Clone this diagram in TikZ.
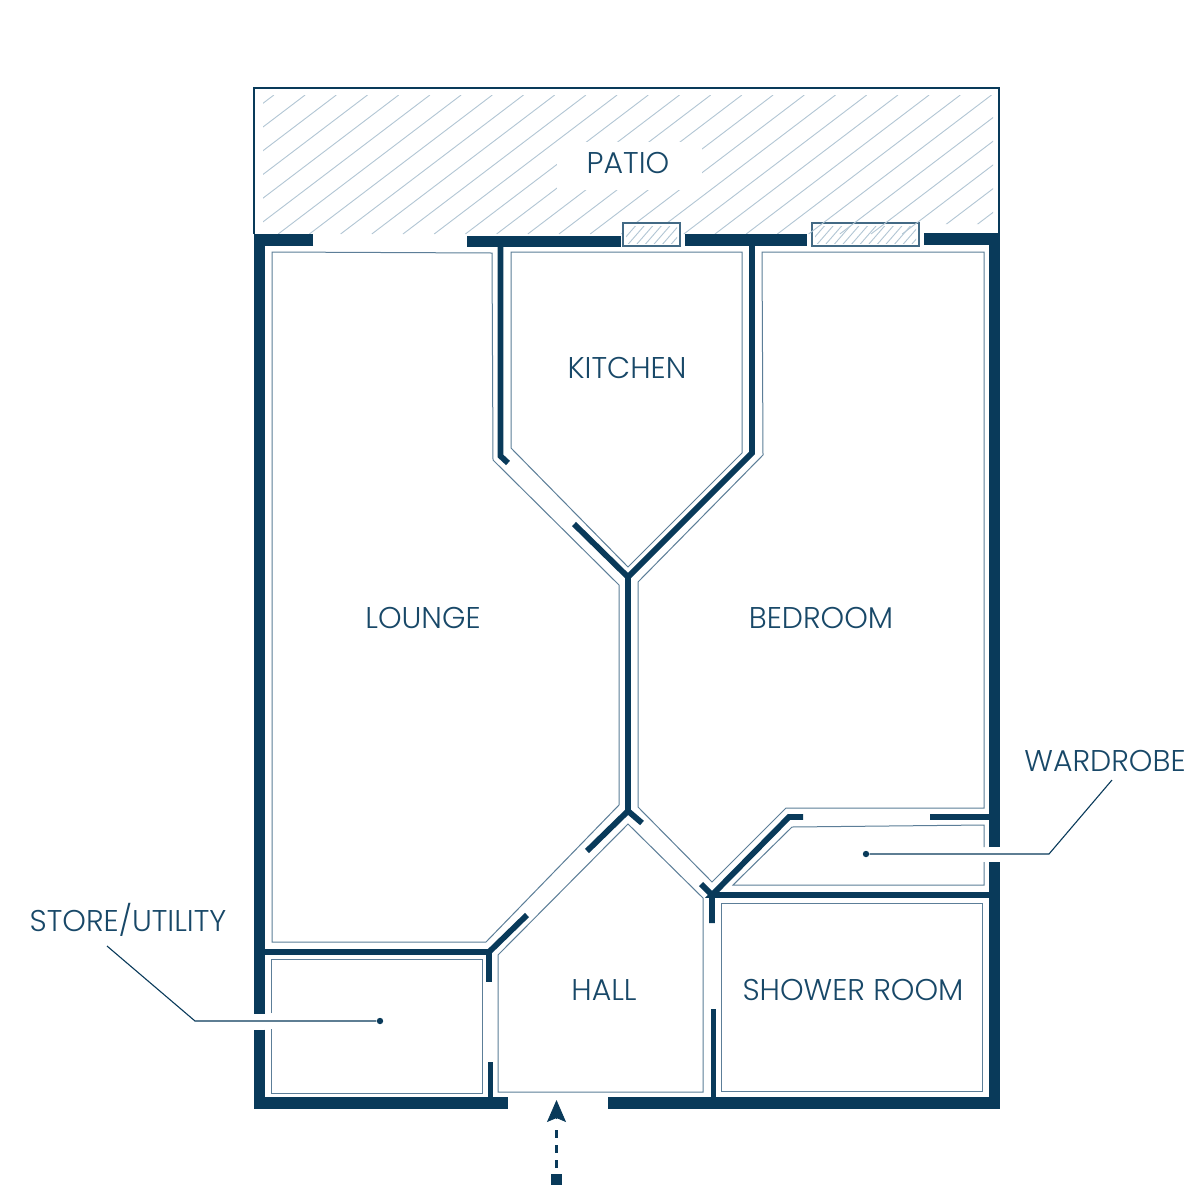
\documentclass[tikz,border=0pt]{standalone}
\usepackage{fontspec}
\setmainfont{Poppins Light}
\usetikzlibrary{arrows.meta}
\definecolor{wall_blue}{RGB}{9,58,90}
\definecolor{room_edge}{RGB}{92,126,152}
\definecolor{hatch_blue}{RGB}{178,198,212}
\definecolor{text_blue}{RGB}{24,72,104}

\begin{document}
\begin{tikzpicture}[x=0.5pt,y=-0.5pt,line join=miter]
    \tikzstyle{label}=[text=text_blue,font=\fontsize{15}{17}\selectfont,inner sep=0pt]
    \tikzstyle{outer}=[draw=wall_blue,line width=5.6pt]
    \tikzstyle{inner}=[draw=wall_blue,line width=2.9pt]
    \tikzstyle{room}=[draw=room_edge,line width=0.5pt]
    \tikzstyle{hatch}=[draw=hatch_blue,line width=0.45pt]
    \tikzstyle{pane}=[draw=room_edge!70!wall_blue,line width=0.75pt,fill=white]
    \tikzstyle{leader}=[draw=wall_blue,line width=0.55pt]
    \tikzstyle{dot}=[circle,fill=wall_blue,inner sep=0pt,minimum size=3.2pt]

    \useasboundingbox (0,0) rectangle (1200,1200);
    \fill[white] (0,0) rectangle (1200,1200);

    % patio
    \draw[wall_blue,line width=1pt] (254,234) -- (254,88) -- (999,88) -- (999,234);
    \draw[pane] (812,223) rectangle (919,246);
    \begin{scope}
      \clip (263,95) -- (993,95) -- (993,224) -- (921,224) -- (921,234) -- (263,234) -- cycle;
      \foreach \i in {-5,...,25}
        \draw[hatch] ({247+31.2*\i},234) -- ({247+31.2*\i+182.9},95);
    \end{scope}
    \fill[white] (557,142) rectangle (702,190);
    \draw[pane] (623,223) rectangle (680,246);
    \begin{scope}
      \clip (626,226) rectangle (677,243);
      \foreach \i in {0,...,8}
        \draw[hatch] ({618+8.6*\i},246) -- ({618+8.6*\i+20},223);
    \end{scope}
    \begin{scope}
      \clip (815,226) rectangle (916,243);
      \foreach \i in {0,...,14}
        \draw[hatch] ({807+8.6*\i},246) -- ({807+8.6*\i+20},223);
    \end{scope}

    % rooms
    \draw[room] (272,252) -- (492,253) -- (493,460) -- (619,585) -- (619,805) -- (486,942) -- (272,942) -- cycle;
    \draw[room] (511,252) -- (742,252) -- (742,453) -- (628,567) -- (511,448) -- cycle;
    \draw[room] (762,252) -- (984,252) -- (984,808) -- (786,808) -- (712,882) -- (638,807) -- (638,582) -- (763,455) -- cycle;
    \draw[room] (984,847) -- (984,825) -- (792,827) -- (733,885) -- (984,885) -- (984,862);
    \draw[room] (721,903) -- (982,903) -- (982,1091) -- (721,1091) -- cycle;
    \draw[room] (271,1013) -- (271,959) -- (482,959) -- (482,1093) -- (271,1093) -- (271,1029);
    \draw[room] (498,955) -- (628,824) -- (703,898) -- (703,1092) -- (498,1092) -- cycle;

    % walls
    \draw[outer] (313,240) -- (259.5,240) -- (259.5,1014);
    \draw[outer] (259.5,1029.5) -- (259.5,1103) -- (508,1103);
    \draw[outer] (924,239) -- (994.5,239) -- (994.5,847);
    \draw[outer] (994.5,862) -- (994.5,1103) -- (608,1103);
    \draw[outer] (467,241.5) -- (621,241.5);
    \draw[outer] (685,240) -- (807,240);

    \draw[inner] (500.5,246) -- (500.5,456) -- (508,463);
    \draw[inner] (752,246) -- (752,453) -- (628,577) -- (628,811) -- (587,851);
    \draw[inner] (574,524) -- (628,577);
    \draw[inner] (628,811) -- (642,823);
    \draw[inner] (265,952) -- (489,952) -- (489,982);
    \draw[inner] (489,952) -- (527,915);
    \draw[inner] (490.5,1062) -- (490.5,1097);
    \draw[inner] (701,884) -- (712,895) -- (712,923);
    \draw[inner] (803,817) -- (789,817) -- (712,895) -- (989,895);
    \draw[inner] (930,817) -- (989,817);
    \draw[inner] (713.5,1009) -- (713.5,1097);

    % labels
    \node[label] (patio)    at (628,163) {PATIO};
    \node[label] (kitchen)  at (627,368) {KITCHEN};
    \node[label] (lounge)   at (423,618) {LOUNGE};
    \node[label] (bedroom)  at (821,618) {BEDROOM};
    \node[label] (hall)     at (604,990) {HALL};
    \node[label] (shower)   at (853,990) {SHOWER ROOM};
    \node[label] (wardrobe) at (1105,761) {WARDROBE};
    \node[label] (store)    at (128,920) {STORE/UTILITY};

    % leaders
    \node[dot] (store_dot) at (380,1021) {};
    \node[dot] (ward_dot) at (866,854) {};
    \draw[leader] (107,946) -- (195,1021) -- (store_dot);
    \draw[leader] (1112,780) -- (1049,854) -- (ward_dot);

    % way in
    \node[fill=wall_blue,minimum size=5.5pt,inner sep=0pt] (foot) at (556.5,1179) {};
    \coordinate (dash_end) at (556.5,1128);
    \coordinate (tip_base) at (556.5,1119);
    \coordinate (tip) at (556.5,1100);
    \draw[wall_blue,line width=1.1pt,dash pattern=on 4pt off 3.6pt] (556.5,1168) -- (dash_end);
    \draw[-{Stealth[length=11pt,width=9.5pt,inset=2pt]},wall_blue,line width=0.4pt] (tip_base) -- (tip);
\end{tikzpicture}
\end{document}
